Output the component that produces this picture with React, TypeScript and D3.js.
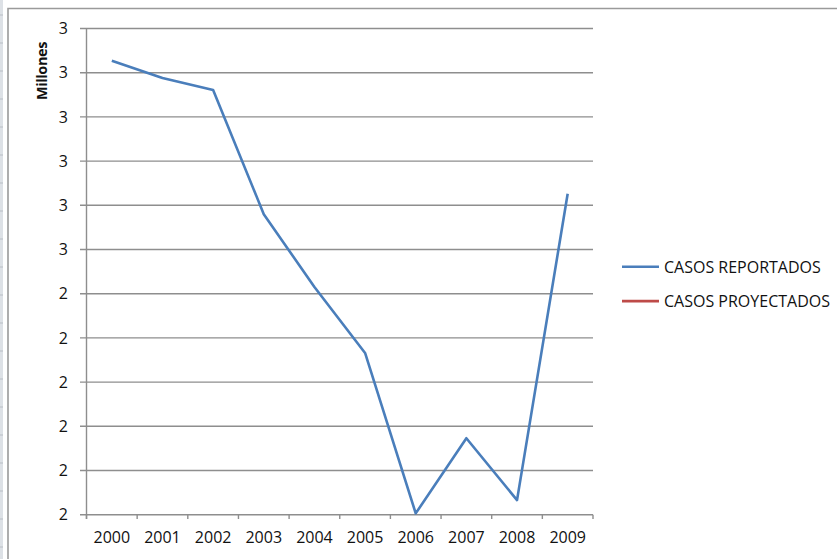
import React from "react";
import * as d3 from "d3";

// Casos reportados por año (valores absolutos)
const years = ["2000", "2001", "2002", "2003", "2004", "2005", "2006", "2007", "2008", "2009"];
const casosReportados = [2927000, 2888000, 2861000, 2580000, 2415000, 2266000, 1903000, 2073000, 1933000, 2626000];
const casosProyectados: number[] = [];
const yTicks = [1900000, 2000000, 2100000, 2200000, 2300000, 2400000, 2500000, 2600000, 2700000, 2800000, 2900000, 3000000];
const seriesNames = ["CASOS REPORTADOS", "CASOS PROYECTADOS"];
const seriesColors = ["#4a7ebb", "#be4b48"];

const W = 837;
const H = 559;
const FONT = "'Open Sans', 'Liberation Sans', sans-serif";
const FS = 16;

export default function App() {
  const x = d3.scaleBand<string>().domain(years).range([86.5, 593]);
  const y = d3.scaleLinear().domain([1900000, 3000000]).range([514.7, 28.5]);
  const fmt = (v: number) => String(Math.round(v / 1e6));

  const line = d3
    .line<number>()
    .x((_, i) => (x(years[i]) as number) + x.bandwidth() / 2)
    .y((d) => y(d));

  const boundaries = years.map((yr) => x(yr) as number).concat([x.range()[1]]);
  const cellLines = d3.range(15, H, 28);

  return (
    <svg
      width={W}
      height={H}
      style={{ position: "absolute", left: 0, top: 0, background: "#fff" }}
      fontFamily={FONT}
    >
      {/* hoja de cálculo detrás del gráfico */}
      <rect x={0} y={0} width={3} height={H} fill="#dde1e6" />
      {cellLines.map((cy) => (
        <line key={cy} x1={0} x2={3} y1={cy} y2={cy} stroke="#b9bec5" strokeWidth={1} />
      ))}
      {/* marco del área del gráfico */}
      <path d={`M8,${H} V8.5 H${W}`} fill="none" stroke="#9a9a9a" strokeWidth={1.6} />

      {/* líneas de división */}
      {yTicks.map((t) => (
        <g key={t}>
          <line x1={80} x2={593} y1={y(t)} y2={y(t)} stroke="#8e8e8e" strokeWidth={1.4} />
          <text
            x={68}
            y={y(t)}
            dy="0.36em"
            textAnchor="end"
            fontSize={FS}
            fill="#111"
          >
            {fmt(t)}
          </text>
        </g>
      ))}

      {/* eje vertical */}
      <line x1={86.5} x2={86.5} y1={28.5} y2={519} stroke="#8e8e8e" strokeWidth={1.4} />
      {/* marcas del eje horizontal */}
      {boundaries.map((bx, i) => (
        <line key={i} x1={bx} x2={bx} y1={514.7} y2={519} stroke="#8e8e8e" strokeWidth={1.4} />
      ))}
      {years.map((yr) => (
        <text
          key={yr}
          x={(x(yr) as number) + x.bandwidth() / 2}
          y={543}
          textAnchor="middle"
          fontSize={FS}
          fill="#111"
        >
          {yr}
        </text>
      ))}

      {/* título del eje */}
      <text
        transform={`translate(46.5,71) rotate(-90)`}
        textAnchor="middle"
        fontSize={14.5}
        fontWeight="bold"
        fill="#111"
        letterSpacing={-0.4}
      >
        Millones
      </text>

      {/* series */}
      <path d={line(casosReportados) || ""} fill="none" stroke={seriesColors[0]} strokeWidth={2.6} strokeLinejoin="round" />
      {casosProyectados.length > 0 && (
        <path d={line(casosProyectados) || ""} fill="none" stroke={seriesColors[1]} strokeWidth={2.6} />
      )}

      {/* leyenda */}
      {seriesNames.map((name, i) => {
        const ly = 266.8 + i * 34.3;
        return (
          <g key={name}>
            <line x1={622} x2={659} y1={ly} y2={ly} stroke={seriesColors[i]} strokeWidth={2.6} />
            <text x={664} y={ly} dy="0.37em" fontSize={FS} fill="#111">
              {name}
            </text>
          </g>
        );
      })}
    </svg>
  );
}
